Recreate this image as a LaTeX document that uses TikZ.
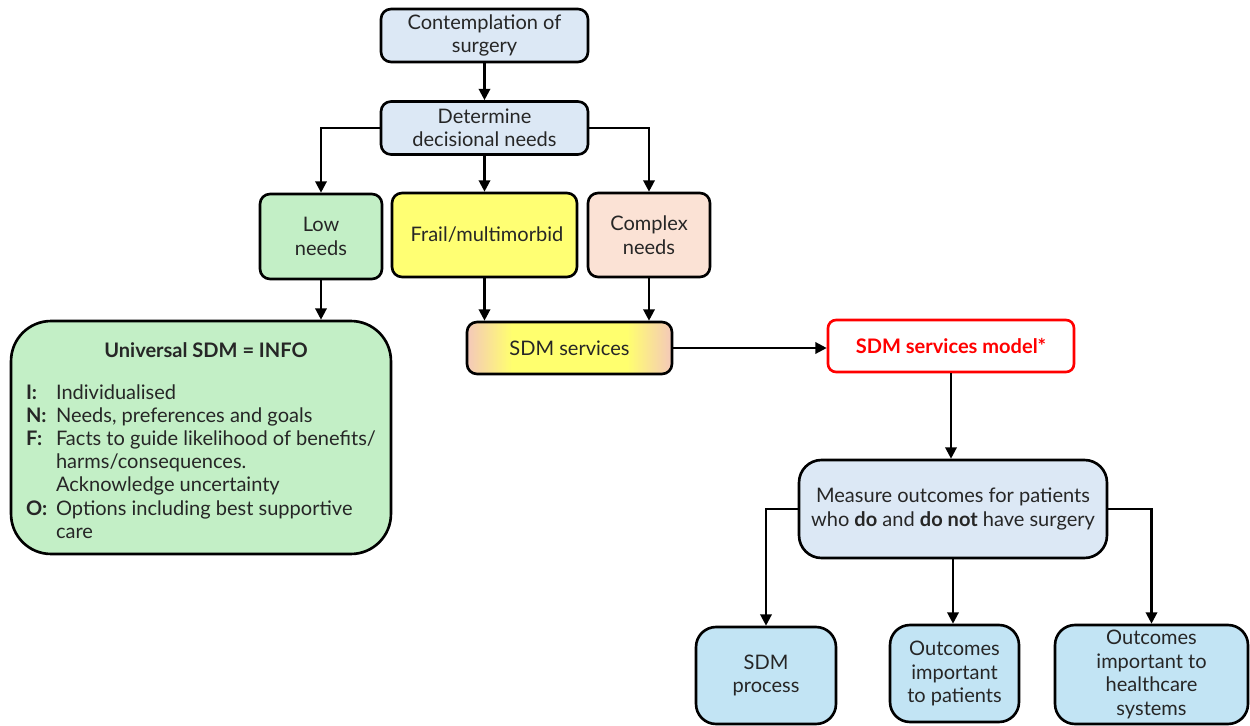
\documentclass[tikz,border=0pt]{standalone}
\usepackage{fontspec}
\setmainfont{Lato}
\usepackage{tikz}
\usetikzlibrary{arrows.meta,positioning}
\definecolor{boxblue}{HTML}{DCE8F5}
\definecolor{boxgreen}{HTML}{C3EFC6}
\definecolor{boxyellow}{HTML}{FFFF73}
\definecolor{boxpeach}{HTML}{FBE2D5}
\definecolor{svcpeach}{HTML}{F4C8BA}
\definecolor{svcyellow}{HTML}{FFFF6E}
\definecolor{boxcyan}{HTML}{C2E4F4}
\definecolor{txtgray}{HTML}{262626}
\pgfdeclarehorizontalshading{svcshade}{100bp}{color(0bp)=(svcpeach); color(25bp)=(svcpeach);
  color(36bp)=(svcyellow); color(64bp)=(svcyellow); color(75bp)=(svcpeach); color(100bp)=(svcpeach)}
\tikzset{box/.style={draw=black,line width=1.5pt,rounded corners=0.2cm,align=center,inner sep=0pt,text=txtgray},
  arr/.style={-{Triangle[width=6.5pt,length=6.5pt]},line width=1.3pt}}

\begin{document}
\begin{tikzpicture}[x=0.02cm,y=-0.02cm]
      \fontsize{11.4}{13.4}\selectfont
      \useasboundingbox (0,0) rectangle (1250,726);
      % top of the tree
      \node[box,fill=boxblue,minimum width=4.14cm,minimum height=1.06cm] (cont) at (484.5,35.5) {Contemplation of\\surgery};
      \node[box,fill=boxblue,minimum width=4.14cm,minimum height=1.06cm] (det) at (484.5,128) {Determine\\decisional needs};
      \node[box,fill=boxgreen,minimum width=2.44cm,minimum height=1.7cm] (low) at (321,236.5) {Low\\needs};
      \node[box,fill=boxyellow,minimum width=3.7cm,minimum height=1.68cm] (frail) at (484.5,235) {\hspace{0.1cm}Frail/multimorbid};
      \node[box,fill=boxpeach,minimum width=2.44cm,minimum height=1.68cm] (cplx) at (649,235) {Complex\\needs};
      % universal SDM
      \node[box,fill=boxgreen,rounded corners=0.8cm,minimum width=7.6cm,minimum height=4.66cm] (info) at (201,437.5)
        {\fontsize{11.4}{13.2}\selectfont\begin{tabular}{@{}p{0.6cm}@{}l@{}}
          \multicolumn{2}{@{}c@{}}{\rule{0pt}{16pt}\hspace{0.2cm}\textbf{Universal SDM = INFO}}\\[0.36cm]
          \textbf{I:} & Individualised\\
          \textbf{N:} & Needs, preferences and goals\\
          \textbf{F:} & Facts to guide likelihood of benefits/\\
                      & harms/consequences.\\
                      & Acknowledge uncertainty\\
          \textbf{O:} & Options including best supportive\\
                      & care
        \end{tabular}};
      % services
      \node[box,shading=svcshade,minimum width=4.1cm,minimum height=1.04cm] (svc) at (569.5,348) {SDM services};
      \node[box,draw=red,fill=white,text=red,rounded corners=0.16cm,minimum width=4.92cm,minimum height=1.04cm] (model) at (951,346) {\textbf{SDM services model*}};
      \node[box,fill=boxblue,rounded corners=0.45cm,minimum width=6.16cm,minimum height=1.96cm] (meas) at (953,509)
        {Measure outcomes for patients\\who \textbf{do} and \textbf{do not} have surgery};
      % outcomes
      \node[box,fill=boxcyan,rounded corners=0.4cm,minimum width=2.8cm,minimum height=1.94cm] (proc) at (766,675.5) {SDM\\process};
      \node[box,fill=boxcyan,rounded corners=0.4cm,minimum width=2.58cm,minimum height=1.94cm] (pat) at (954.5,673.5) {Outcomes\\important\\to patients};
      \node[box,fill=boxcyan,rounded corners=0.4cm,minimum width=3.86cm,minimum height=1.98cm] (hc) at (1151.5,674.5) {Outcomes\\important to\\healthcare\\systems};
      % connectors
      \draw[arr] (cont) -- (det);
      \draw[arr] (det.west) -| (low.north);
      \draw[arr] (det.south) -- (frail.north);
      \draw[arr] (det.east) -| (cplx.north);
      \draw[arr] (low.south) -- (low.south |- info.north);
      \draw[arr] (frail.south) -- (frail.south |- svc.north);
      \draw[arr] (cplx.south) -- (cplx.south |- svc.north);
      \draw[arr] (svc.east) -- (svc.east -| model.west);
      \draw[arr] (model.south) -- (model.south |- meas.north);
      \draw[arr] (meas.west) -| (proc.north);
      \draw[arr] (meas.south) -- (meas.south |- pat.north);
      \draw[arr] (meas.east) -| (hc.north);
    \end{tikzpicture}
\end{document}
